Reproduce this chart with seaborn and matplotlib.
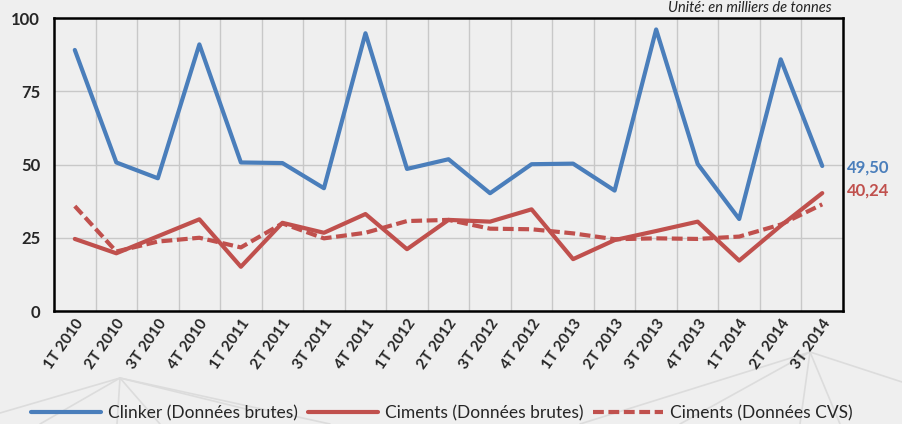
import numpy as np
import pandas as pd
import matplotlib
matplotlib.use("Agg")
import matplotlib.pyplot as plt
from matplotlib.lines import Line2D
from matplotlib.ticker import FixedLocator
import seaborn as sns

quarters = ["1T 2010", "2T 2010", "3T 2010", "4T 2010",
            "1T 2011", "2T 2011", "3T 2011", "4T 2011",
            "1T 2012", "2T 2012", "3T 2012", "4T 2012",
            "1T 2013", "2T 2013", "3T 2013", "4T 2013",
            "1T 2014", "2T 2014", "3T 2014"]
clinker_brutes = [89.1, 50.7, 45.3, 91.0, 50.7, 50.5, 41.9, 94.8, 48.5, 51.8,
                  40.2, 50.1, 50.3, 41.1, 96.1, 50.2, 31.4, 85.9, 49.50]
ciments_brutes = [24.6, 19.7, 25.5, 31.3, 15.1, 30.1, 26.7, 33.1, 21.1, 31.1,
                  30.5, 34.7, 17.7, 24.2, 27.3, 30.5, 17.2, 29.1, 40.24]
ciments_cvs = [35.8, 20.3, 23.7, 25.0, 21.7, 29.9, 24.8, 26.7, 30.7, 31.1,
               28.1, 27.9, 26.5, 24.5, 24.8, 24.6, 25.4, 29.5, 36.4]
series_names = ["Clinker (Données brutes)", "Ciments (Données brutes)", "Ciments (Données CVS)"]
yticks = [0, 25, 50, 75, 100]
unit_text = "Unité: en milliers de tonnes"

BLUE = "#4a7ebb"
RED = "#c0504d"
BG = "#efefef"

sns.set_theme(style="white")
plt.rcParams["font.family"] = ["Lato", "DejaVu Sans"]

fig = plt.figure(figsize=(9.02, 4.24), dpi=100, facecolor=BG)
ax = fig.add_axes([0.0599, 0.2665, 0.8747, 0.691])
ax.set_facecolor(BG)

# decorative background lines
deco = [((120, 378), (0, 413)), ((120, 378), (40, 424)), ((120, 378), (117, 424)),
        ((120, 378), (160, 424)), ((120, 378), (250, 410)), ((120, 378), (330, 424)),
        ((810, 352), (580, 424)), ((810, 352), (680, 424)), ((810, 352), (800, 424)),
        ((810, 352), (840, 424)), ((810, 352), (902, 382))]
for (x0, y0), (x1, y1) in deco:
    fig.add_artist(Line2D([x0 / 902, x1 / 902], [1 - y0 / 424, 1 - y1 / 424],
                          color="#dcdcdc", lw=1.2, zorder=0))

df = pd.DataFrame({"quarter": quarters, "clinker": clinker_brutes,
                   "brutes": ciments_brutes, "cvs": ciments_cvs})

LW = 3.0
sns.lineplot(data=df, x="quarter", y="clinker", ax=ax, color=BLUE, lw=LW,
             sort=False, label=series_names[0])
sns.lineplot(data=df, x="quarter", y="brutes", ax=ax, color=RED, lw=LW,
             sort=False, label=series_names[1])
sns.lineplot(data=df, x="quarter", y="cvs", ax=ax, color=RED, lw=LW,
             sort=False, label=series_names[2], dashes=False)
ax.lines[-1].set_dashes([2.6, 1.1])

n = len(quarters)
ax.set_xlim(-0.5, n - 0.5)
ax.set_ylim(0, 100)
ax.set_yticks(yticks)
ax.set_yticklabels([str(v) for v in yticks], fontsize=12, fontweight="bold")
ax.set_xticks(range(n))
ax.set_xticklabels(quarters, rotation=55, ha="right", rotation_mode="anchor",
                   fontsize=11, fontweight="bold")
ax.xaxis.set_minor_locator(FixedLocator(np.arange(0.5, n - 0.5, 1)))
ax.grid(which="minor", axis="x", color="#c8c8c8", lw=1)
ax.grid(which="major", axis="y", color="#c8c8c8", lw=1)
ax.grid(which="major", axis="x", visible=False)
ax.tick_params(axis="both", which="both", length=0, pad=4)
ax.tick_params(axis="y", pad=10)
ax.set_xlabel("")
ax.set_ylabel("")
for sp in ax.spines.values():
    sp.set_color("black")
    sp.set_linewidth(1.8)

ax.annotate(f"{clinker_brutes[-1]:.2f}".replace(".", ","), xy=(1.0, clinker_brutes[-1]),
            xycoords=("axes fraction", "data"), xytext=(3, -1), textcoords="offset points",
            color=BLUE, fontsize=12, fontweight="bold", va="center", ha="left")
ax.annotate(f"{ciments_brutes[-1]:.2f}".replace(".", ","), xy=(1.0, ciments_brutes[-1]),
            xycoords=("axes fraction", "data"), xytext=(3, 2), textcoords="offset points",
            color=RED, fontsize=12, fontweight="bold", va="center", ha="left")

fig.text(832 / 902, 1 - 0.5 / 424, unit_text, ha="right", va="top",
         fontsize=10.5, style="italic", color="#222222")

handles, labels = ax.get_legend_handles_labels()
ax.get_legend().remove()
leg = fig.legend(handles, labels, loc="center", bbox_to_anchor=(442 / 902, 1 - 413 / 424),
                 ncol=3, frameon=False, fontsize=12.5, handlelength=4.0,
                 columnspacing=0.6, handletextpad=0.4)

fig.savefig("out.png", dpi=100, facecolor=BG)
